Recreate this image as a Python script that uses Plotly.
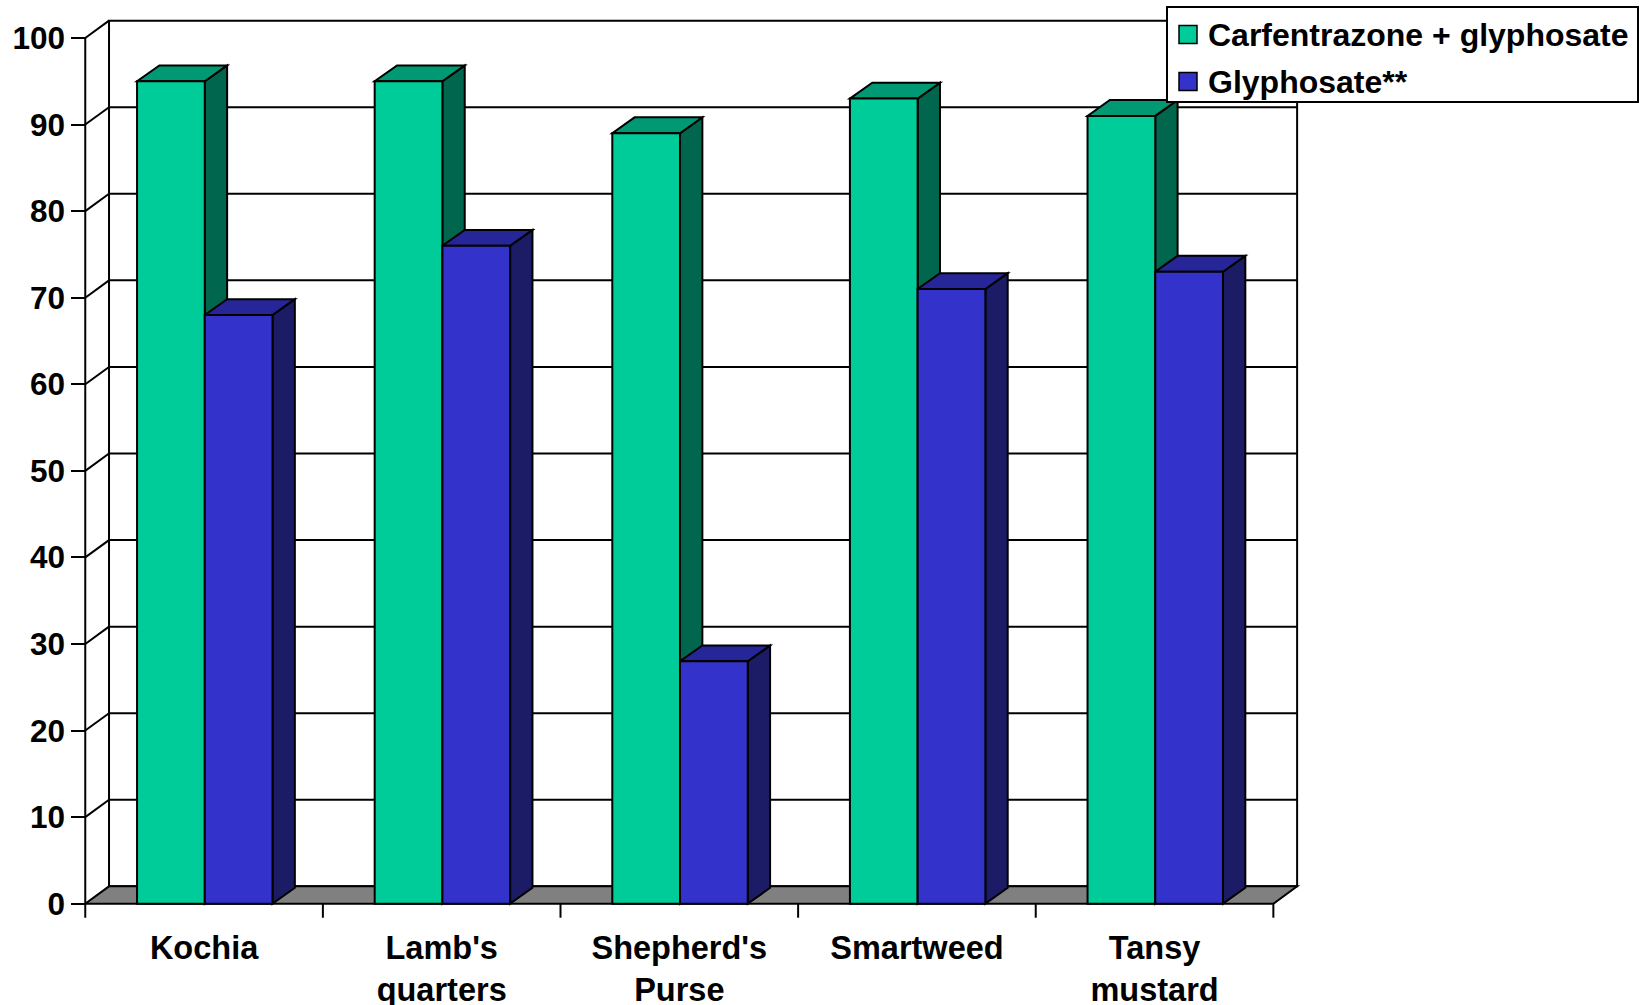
import plotly.graph_objects as go

# Weed control (%) by species for two herbicide treatments
categories = ["Kochia", "Lamb's<br>quarters", "Shepherd's<br>Purse", "Smartweed", "Tansy<br>mustard"]
series_names = ["Carfentrazone + glyphosate", "Glyphosate**"]
carfentrazone_glyphosate = [95, 95, 89, 93, 91]
glyphosate = [68, 76, 28, 71, 73]
y_ticks = [0, 10, 20, 30, 40, 50, 60, 70, 80, 90, 100]

series_values = [carfentrazone_glyphosate, glyphosate]
front_colors = ["#00CC99", "#3333CC"]
top_colors = ["rgb(0,153,115)", "rgb(38,38,153)"]
side_colors = ["rgb(0,102,77)", "rgb(28,28,102)"]

# 3-D look: depth of the walls and of the bar bodies, in axis units
WALL_DX, WALL_DY = 0.10, 2.0
BAR_DX, BAR_DY = 0.094, 1.83
BAR_START, BAR_W = 0.218, 0.285
TICK_DOWN = 1.62
LW = 2
n = len(categories)
YMAX = 100

W, H = 1645, 1005
M_L, M_R, M_T, M_B = 71, 336, 12, 84
PLOT_W, PLOT_H = W - M_L - M_R, H - M_T - M_B

BASE_FONT = dict(family="Liberation Sans, Arial, sans-serif", color="black", weight="bold")
Y_FONT = dict(BASE_FONT, size=31.5)
X_FONT = dict(BASE_FONT, size=32.5)
LEGEND_FONT = dict(BASE_FONT, size=32)


def line(x0, y0, x1, y1):
    return dict(type="line", xref="x", yref="y", x0=x0, y0=y0, x1=x1, y1=y1,
                line=dict(color="black", width=LW), layer="below")


def poly(pts, fill):
    d = "M " + " L ".join(f"{x},{y}" for x, y in pts) + " Z"
    return dict(type="path", xref="x", yref="y", path=d, fillcolor=fill,
                line=dict(color="black", width=LW), layer="below")


def px_x(px):
    """page pixel column -> paper x"""
    return (px - M_L) / PLOT_W


def px_y(py):
    """page pixel row -> paper y"""
    return (H - M_B - py) / PLOT_H


shapes = []
# back wall
shapes.append(poly([(WALL_DX, WALL_DY), (n + WALL_DX, WALL_DY),
                    (n + WALL_DX, YMAX + WALL_DY), (WALL_DX, YMAX + WALL_DY)], "white"))
# back-wall gridlines
for v in y_ticks[1:-1]:
    shapes.append(line(WALL_DX, v + WALL_DY, n + WALL_DX, v + WALL_DY))
# side-wall gridlines
for v in y_ticks[1:]:
    shapes.append(line(0, v, WALL_DX, v + WALL_DY))
# floor
shapes.append(poly([(0, 0), (n, 0), (n + WALL_DX, WALL_DY), (WALL_DX, WALL_DY)], "#808080"))
# front value axis and category boundary ticks
shapes.append(line(0, -TICK_DOWN, 0, YMAX))
for k in range(1, n + 1):
    shapes.append(line(k, 0, k, -TICK_DOWN))

# top and side faces of each bar (front faces are the bar traces)
bar_x = []
for j, vals in enumerate(series_values):
    xs = []
    for i, v in enumerate(vals):
        x0 = i + BAR_START + j * BAR_W
        x1 = x0 + BAR_W
        xs.append((x0 + x1) / 2)
        shapes.append(poly([(x1, 0), (x1 + BAR_DX, BAR_DY), (x1 + BAR_DX, v + BAR_DY), (x1, v)],
                           side_colors[j]))
        shapes.append(poly([(x0, v), (x1, v), (x1 + BAR_DX, v + BAR_DY), (x0 + BAR_DX, v + BAR_DY)],
                           top_colors[j]))
    bar_x.append(xs)

# legend box with square swatches
LEG_L, LEG_R, LEG_T, LEG_B = 1167, 1638, 7, 102
SW_L, SW_SIZE, TEXT_L = 1179, 18, 1206
ROW_Y = [34.5, 81.5]
annotations = []
shapes.append(dict(type="rect", xref="paper", yref="paper",
                   x0=px_x(LEG_L), x1=px_x(LEG_R), y0=px_y(LEG_B), y1=px_y(LEG_T),
                   fillcolor="white", line=dict(color="black", width=2), layer="above"))
for j, name in enumerate(series_names):
    cy = ROW_Y[j]
    shapes.append(dict(type="rect", xref="paper", yref="paper",
                       x0=px_x(SW_L), x1=px_x(SW_L + SW_SIZE),
                       y0=px_y(cy + SW_SIZE / 2), y1=px_y(cy - SW_SIZE / 2),
                       fillcolor=front_colors[j], line=dict(color="black", width=1.5), layer="above"))
    annotations.append(dict(text=name, xref="paper", yref="paper", x=px_x(TEXT_L), y=px_y(cy),
                            xanchor="left", yanchor="middle", showarrow=False, font=LEGEND_FONT))

fig = go.Figure()
for j, vals in enumerate(series_values):
    fig.add_trace(go.Bar(
        x=bar_x[j], y=vals, width=BAR_W, name=series_names[j],
        marker=dict(color=front_colors[j], line=dict(color="black", width=LW)),
        hoverinfo="skip",
    ))

X_MIN, X_MAX = -0.06, 5.15
fig.update_layout(
    width=W, height=H,
    margin=dict(l=M_L, r=M_R, t=M_T, b=M_B, pad=0, autoexpand=False),
    paper_bgcolor="white", plot_bgcolor="white",
    shapes=shapes,
    annotations=annotations,
    barmode="overlay",
    showlegend=False,
    xaxis=dict(range=[X_MIN, X_MAX], tickvals=[i + 0.5 for i in range(n)], ticktext=categories,
               ticks="", showgrid=False, zeroline=False, showline=False, automargin=False,
               tickfont=X_FONT, ticklabelstandoff=4, fixedrange=True),
    yaxis=dict(range=[-2, 103], tickvals=y_ticks, ticks="outside", ticklen=14, tickwidth=2,
               tickcolor="black", showgrid=False, zeroline=False, showline=False, automargin=False,
               anchor="free", position=(0 - X_MIN) / (X_MAX - X_MIN),
               tickfont=Y_FONT, ticklabelstandoff=0, fixedrange=True),
)

fig.write_html("out.html")
